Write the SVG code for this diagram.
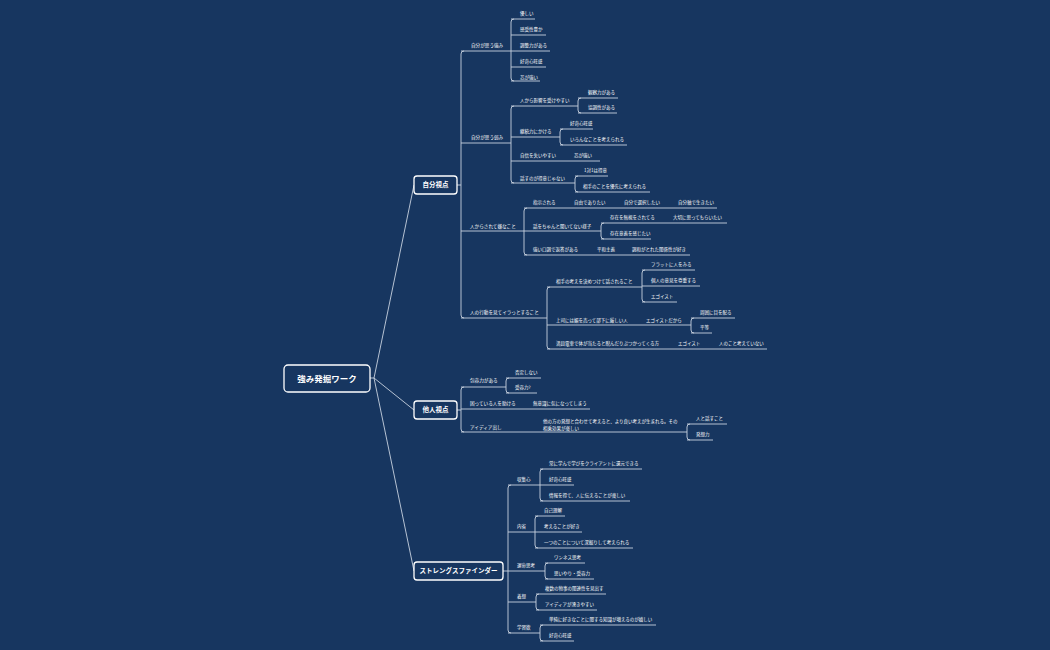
<svg xmlns="http://www.w3.org/2000/svg" width="1050" height="650" viewBox="0 0 1050 650">
<style>
text{font-family:"Noto Sans CJK JP","Noto Sans",sans-serif;fill:#fff}
.l{font-size:4.5px}
.m{font-size:4.6px}
.b{font-size:6.5px;font-weight:bold}
.r{font-size:8.5px;font-weight:bold}
.c path,.c line{fill:none;stroke:#c8d2e0;stroke-width:0.9}
.box{fill:#173660;stroke:#fff;stroke-width:1.3}
</style>
<rect width="1050" height="650" fill="#173660"/>
<g class="c" id="connectors">
<path d="M370,378 H374 L414,185 M374,378 L414,410 M374,378 L414,571"/>
<path d="M457,185 H461 M464,51 Q461,51 461,54 V315 Q461,318 464,318"/>
<path d="M461,51 H511 M514,19 Q511,19 511,22 V78 Q511,81 514,81 M511,19 H535 M511,35 H546 M511,51 H550 M511,67 H546 M511,81 H540"/>
<path d="M461,143 H511 M514,106 Q511,106 511,109 V180 Q511,183 514,183"/>
<path d="M511,106 H578 M581,98 Q578,98 578,101 V110 Q578,113 581,113 M578,98 H618 M578,113 H617"/>
<path d="M511,137 H560 M563,129 Q560,129 560,132 V142 Q560,145 563,145 M560,129 H593 M560,145 H627"/>
<path d="M511,161 H600"/>
<path d="M511,183 H575 M578,176 Q575,176 575,179 V189 Q575,192 578,192 M575,176 H608 M575,192 H650"/>
<path d="M461,231 H524 M527,208 Q524,208 524,211 V252 Q524,255 527,255 M524,208 H717 M524,231 H601 M524,255 H690"/>
<path d="M604,223 Q601,223 601,226 V236 Q601,239 604,239 M601,223 H727 M601,239 H651"/>
<path d="M461,318 H547 M550,287 Q547,287 547,290 V346 Q547,349 550,349 M547,287 H642 M547,325 H691 M547,349 H767"/>
<path d="M645,270 Q642,270 642,273 V299 Q642,302 645,302 M642,270 H695 M642,286 H700 M642,302 H677"/>
<path d="M694,318 Q691,318 691,321 V330 Q691,333 694,333 M691,318 H735 M691,333 H712"/>
<path d="M457,410 H461 M464,387 Q461,387 461,390 V429 Q461,432 464,432"/>
<path d="M461,387 H506 M509,378 Q506,378 506,381 V390 Q506,393 509,393 M506,378 H541 M506,393 H537"/>
<path d="M461,409 H590 M461,432 H687 M690,424 Q687,424 687,427 V437 Q687,440 690,440 M687,424 H727 M687,440 H713"/>
<path d="M503,571 H508 M511,485 Q508,485 508,488 V630 Q508,633 511,633"/>
<path d="M508,485 H540 M543,469 Q540,469 540,472 V498 Q540,501 543,501 M540,469 H642 M540,485 H574 M540,501 H630"/>
<path d="M508,532 H535 M538,516 Q535,516 535,519 V545 Q535,548 538,548 M535,516 H565 M535,532 H582 M535,548 H633"/>
<path d="M508,571 H545 M548,563 Q545,563 545,566 V576 Q545,579 548,579 M545,563 H585 M545,579 H594"/>
<path d="M508,602 H536 M539,594 Q536,594 536,597 V607 Q536,610 539,610 M536,594 H606 M536,610 H597"/>
<path d="M508,633 H540 M543,625 Q540,625 540,628 V638 Q540,641 543,641 M540,625 H656 M540,641 H574"/>
</g>
<g id="root"><rect class="box" x="284" y="365" width="86" height="27" rx="4"/><text class="r" x="327" y="381.5" text-anchor="middle">強み発掘ワーク</text></g>
<g id="n-jibun"><rect class="box" x="414" y="176" width="43" height="18" rx="3"/><text class="b" x="435.5" y="187.3" text-anchor="middle">自分視点</text></g>
<g id="n-tanin"><rect class="box" x="414" y="401" width="43" height="18" rx="3"/><text class="b" x="435.5" y="412.3" text-anchor="middle">他人視点</text></g>
<g id="n-sf"><rect class="box" x="414" y="562" width="89" height="18" rx="3"/><text class="b" x="458.5" y="573.3" text-anchor="middle">ストレングスファインダー</text></g>
<g id="leaves">
<text class="m" x="471" y="47">自分が思う強み</text>
<text class="l" x="520" y="15">優しい</text>
<text class="l" x="520" y="31">感受性豊か</text>
<text class="l" x="520" y="47">調整力がある</text>
<text class="l" x="520" y="63">好奇心旺盛</text>
<text class="l" x="520" y="79">芯が強い</text>
<text class="m" x="471" y="139">自分が思う弱み</text>
<text class="l" x="520" y="102">人から影響を受けやすい</text>
<text class="l" x="588" y="94">観察力がある</text>
<text class="l" x="588" y="109">協調性がある</text>
<text class="l" x="520" y="133">継続力にかける</text>
<text class="l" x="570" y="125">好奇心旺盛</text>
<text class="l" x="570" y="141">いろんなことを考えられる</text>
<text class="l" x="520" y="157">自信を失いやすい</text>
<text class="l" x="574" y="157">芯が強い</text>
<text class="l" x="520" y="180">話すのが得意じゃない</text>
<text class="l" x="584" y="172">1対1は得意</text>
<text class="l" x="583" y="188">相手のことを優先に考えられる</text>
<text class="m" x="470" y="228">人からされて嫌なこと</text>
<text class="l" x="533" y="204">指示される</text>
<text class="l" x="574" y="204">自由でありたい</text>
<text class="l" x="624" y="204">自分で選択したい</text>
<text class="l" x="678" y="204">自分軸で生きたい</text>
<text class="l" x="533" y="228">話をちゃんと聞いてない様子</text>
<text class="l" x="610" y="219">存在を無視をされてる</text>
<text class="l" x="673" y="219">大切に思ってもらいたい</text>
<text class="l" x="610" y="235">存在意義を感じたい</text>
<text class="l" x="533" y="251">強い口調で返答がある</text>
<text class="l" x="597" y="251">平和主義</text>
<text class="l" x="632" y="251">調和がとれた関係性が好き</text>
<text class="m" x="470" y="314">人の行動を見てイラっとすること</text>
<text class="l" x="556" y="283">相手の考えを決めつけて話されること</text>
<text class="l" x="651" y="266">フラットに人をみる</text>
<text class="l" x="651" y="282">個人の意見を尊重する</text>
<text class="l" x="651" y="298">エゴイスト</text>
<text class="l" x="556" y="322">上司には媚を売って部下に厳しい人</text>
<text class="l" x="646" y="322">エゴイストだから</text>
<text class="l" x="700" y="314">周囲に目を配る</text>
<text class="l" x="700" y="329">平等</text>
<text class="l" x="556" y="345">満員電車で体が当たると睨んだりぶつかってくる方</text>
<text class="l" x="678" y="345">エゴイスト</text>
<text class="l" x="719" y="345">人のこと考えていない</text>
<text class="m" x="470" y="382">包容力がある</text>
<text class="l" x="515" y="374">否定しない</text>
<text class="l" x="515" y="389">受容力?</text>
<text class="m" x="470" y="405">困っている人を助ける</text>
<text class="l" x="533" y="405">無意識に気になってしまう</text>
<text class="m" x="470" y="429">アイディア出し</text>
<text class="l" x="543" y="423">他の方の発想と合わせて考えると、より良い考えが生まれる。その</text>
<text class="l" x="543" y="430">相乗効果が楽しい</text>
<text class="l" x="696" y="420">人と話すこと</text>
<text class="l" x="696" y="436">発想力</text>
<text class="l" x="517" y="481">収集心</text>
<text class="l" x="549" y="465">常に学んで学びをクライアントに還元できる</text>
<text class="l" x="549" y="481">好奇心旺盛</text>
<text class="l" x="549" y="497">情報を得て、人に伝えることが楽しい</text>
<text class="l" x="517" y="528">内省</text>
<text class="l" x="544" y="512">自己理解</text>
<text class="l" x="544" y="528">考えることが好き</text>
<text class="l" x="544" y="544">一つのことについて深掘りして考えられる</text>
<text class="l" x="517" y="567">運命思考</text>
<text class="l" x="554" y="559">ワンネス思考</text>
<text class="l" x="554" y="575">思いやり・受容力</text>
<text class="l" x="517" y="598">着想</text>
<text class="l" x="545" y="590">複数の物事の関連性を見出す</text>
<text class="l" x="545" y="606">アイディアが湧きやすい</text>
<text class="l" x="517" y="629">学習欲</text>
<text class="l" x="549" y="621">単純に好きなことに関する知識が増えるのが嬉しい</text>
<text class="l" x="549" y="637">好奇心旺盛</text>
</g>
</svg>
